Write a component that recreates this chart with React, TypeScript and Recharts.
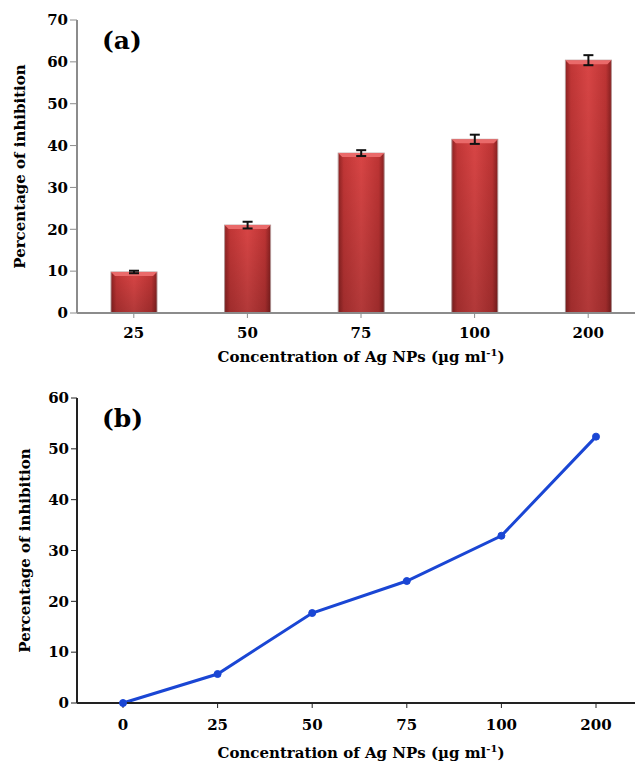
import React from "react";
import {
  Bar,
  BarChart,
  ErrorBar,
  Line,
  LineChart,
  XAxis,
  YAxis,
} from "recharts";

// panel (a): bars with error bars
const CONC_A = ["25", "50", "75", "100", "200"];
const INHIB_A = [9.8, 21.0, 38.2, 41.5, 60.4];
const ERR_A = [0.3, 0.8, 0.7, 1.1, 1.2];
const TICKS_A = [0, 10, 20, 30, 40, 50, 60, 70];

// panel (b): line
const CONC_B = ["0", "25", "50", "75", "100", "200"];
const INHIB_B = [0, 5.7, 17.7, 24.0, 32.9, 52.4];
const TICKS_B = [0, 10, 20, 30, 40, 50, 60];

const Y_TITLE = "Percentage of inhibition";

const dataA = CONC_A.map((c, i) => ({ conc: c, value: INHIB_A[i], err: ERR_A[i] }));
const dataB = CONC_B.map((c, i) => ({ conc: c, value: INHIB_B[i] }));

const FONT = "'DejaVu Serif', 'Liberation Serif', serif";
const tickStyle = { fill: "#000", fontSize: 15, fontWeight: "bold", fontFamily: FONT };
const titleStyle = { fill: "#000", fontSize: 15, fontWeight: "bold", fontFamily: FONT };

// x axis title with superscript -1
const XTitle = (props: any) => {
  const vb = props.viewBox || { x: 77, y: 0, width: 568 };
  const cx = vb.x + vb.width / 2;
  const y = vb.y + props.baseOff;
  return (
    <text x={cx} y={y} textAnchor="middle" style={titleStyle}>
      Concentration of Ag NPs (µg ml
      <tspan dy={-6} fontSize={10}>-1</tspan>
      <tspan dy={6}>)</tspan>
    </text>
  );
};

// red bar with a little bevel / shading
const BevelBar = (props: any) => {
  const { x, y, width, height } = props;
  if (!height || height <= 0) return null;
  const b = 4;
  return (
    <g>
      <rect x={x} y={y} width={width} height={height} fill="url(#barH)" stroke="#b89a9a" strokeWidth={1} />
      <rect x={x} y={y} width={width} height={height} fill="url(#barV)" />
      <polygon
        points={`${x},${y} ${x + width},${y} ${x + width - b},${y + b} ${x + b},${y + b}`}
        fill="#ea6a6a"
      />
    </g>
  );
};

const Panel = ({ label, top }: { label: string; top: number }) => (
  <div
    style={{
      position: "absolute",
      left: 102,
      top,
      fontFamily: FONT,
      fontWeight: "bold",
      fontSize: 25,
      color: "#000",
      lineHeight: "25px",
    }}
  >
    {label}
  </div>
);

export default function App() {
  return (
    <div
      style={{
        position: "absolute",
        left: 0,
        top: 0,
        width: 635,
        height: 766,
        overflow: "hidden",
        background: "#fff",
      }}
    >
      {/* (a) bar chart */}
      <div style={{ position: "absolute", left: 0, top: 0 }}>
        <BarChart
          width={660}
          height={370}
          data={dataA}
          margin={{ top: 20, right: 15, left: 17, bottom: 0 }}
          barSize={46}
        >
          <defs>
            <linearGradient id="barH" x1="0" y1="0" x2="1" y2="0">
              <stop offset="0%" stopColor="#8e2222" />
              <stop offset="12%" stopColor="#c13636" />
              <stop offset="50%" stopColor="#d84545" />
              <stop offset="88%" stopColor="#bd3434" />
              <stop offset="100%" stopColor="#862020" />
            </linearGradient>
            <linearGradient id="barV" x1="0" y1="0" x2="0" y2="1">
              <stop offset="0%" stopColor="#000" stopOpacity={0} />
              <stop offset="100%" stopColor="#000" stopOpacity={0.18} />
            </linearGradient>
          </defs>
          <XAxis
            dataKey="conc"
            height={57}
            axisLine={{ stroke: "#8c8c8c", strokeWidth: 2 }}
            tickLine={{ stroke: "#8c8c8c" }}
            tickSize={5}
            tickMargin={9}
            tick={tickStyle}
            interval={0}
            label={<XTitle baseOff={49} />}
          />
          <YAxis
            width={60}
            domain={[0, 70]}
            ticks={TICKS_A}
            interval={0}
            axisLine={{ stroke: "#8c8c8c", strokeWidth: 2 }}
            tickLine={{ stroke: "#8c8c8c" }}
            tickSize={7}
            tick={tickStyle}
            label={{
              value: Y_TITLE,
              angle: -90,
              position: "insideLeft",
              offset: 3,
              style: { ...titleStyle, textAnchor: "middle" },
            }}
          />
          <Bar dataKey="value" shape={<BevelBar />} isAnimationActive={false}>
            <ErrorBar dataKey="err" direction="y" width={5} stroke="#111" strokeWidth={2} />
          </Bar>
        </BarChart>
      </div>
      <Panel label="(a)" top={28} />

      {/* (b) line chart */}
      <div style={{ position: "absolute", left: 0, top: 370 }}>
        <LineChart
          width={660}
          height={396}
          data={dataB}
          margin={{ top: 28, right: 15, left: 17, bottom: 0 }}
        >
          <XAxis
            dataKey="conc"
            height={63}
            padding={{ left: 46, right: 49 }}
            axisLine={{ stroke: "#222", strokeWidth: 2 }}
            tickLine={{ stroke: "#222" }}
            tickSize={5}
            tickMargin={11}
            tick={tickStyle}
            interval={0}
            label={<XTitle baseOff={55} />}
          />
          <YAxis
            width={60}
            domain={[0, 60]}
            ticks={TICKS_B}
            interval={0}
            axisLine={{ stroke: "#222", strokeWidth: 2 }}
            tickLine={{ stroke: "#222" }}
            tickSize={6}
            tick={tickStyle}
            label={{
              value: Y_TITLE,
              angle: -90,
              position: "insideLeft",
              offset: 8,
              style: { ...titleStyle, textAnchor: "middle" },
            }}
          />
          <Line
            dataKey="value"
            stroke="#1a46d4"
            strokeWidth={3}
            dot={{ r: 3.5, fill: "#1a46d4", stroke: "#1a46d4", strokeWidth: 1 }}
            isAnimationActive={false}
          />
        </LineChart>
      </div>
      <Panel label="(b)" top={406} />
    </div>
  );
}
